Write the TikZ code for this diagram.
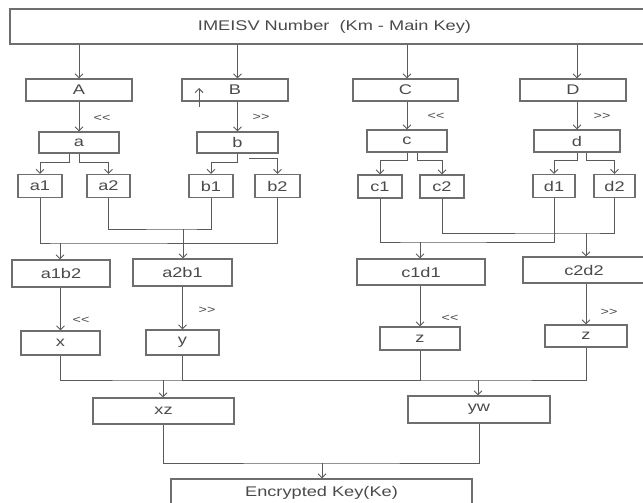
\documentclass[tikz,border=0pt]{standalone}
\usepackage{fontspec}
\setmainfont{Liberation Sans}
\usetikzlibrary{arrows.meta,calc}
\newcommand{\hs}[1]{\scalebox{1.3}[1]{#1}}
\definecolor{boxc}{HTML}{6E6E6E}
\definecolor{txtc}{HTML}{4A4A4A}
\definecolor{linec}{HTML}{5A5A5A}
\begin{document}
\begin{tikzpicture}[x=1pt,y=-1pt,
  box/.style={draw=boxc,line width=1.1pt,inner sep=0pt,text=txtc,font=\fontsize{14}{16}\selectfont},
  lab/.style={text=txtc,font=\fontsize{11}{12}\selectfont,inner sep=0pt},
  ln/.style={draw=linec,line width=0.9pt},
  arr/.style={ln,-{Straight Barb[length=4pt,width=8pt]}}]
\fill[white] (0,0) rectangle (643,503);
\clip (0,0) rectangle (643,503);
% top
\node[box,minimum width=649pt,minimum height=35pt] (top) at (334.5,26.5) {\hs{IMEISV Number\ \ (Km - Main Key)}};
% level 1
\node[box,minimum width=106pt,minimum height=22pt] (A) at (79,90) {\hs{A}};
\node[box,minimum width=106pt,minimum height=22pt] (B) at (235,90) {\hs{B}};
\node[box,minimum width=105pt,minimum height=22pt] (C) at (405.5,90) {\hs{C}};
\node[box,minimum width=106pt,minimum height=22pt] (D) at (573,90) {\hs{D}};
% level 2
\node[box,minimum width=80pt,minimum height=21pt] (a) at (79,142.5) {\hs{a}};
\node[box,minimum width=81pt,minimum height=21pt] (b) at (237.5,142.5) {\hs{b}};
\node[box,minimum width=80pt,minimum height=22pt] (c) at (407,141) {\hs{c}};
\node[box,minimum width=86pt,minimum height=22pt] (d) at (577,141) {\hs{d}};
% level 3
\node[box,minimum width=44pt,minimum height=23pt] (a1) at (40,186) {\hs{a1}};
\node[box,minimum width=43pt,minimum height=23pt] (a2) at (108.5,186) {\hs{a2}};
\node[box,minimum width=44pt,minimum height=23pt] (b1) at (211,186) {\hs{b1}};
\node[box,minimum width=45pt,minimum height=23pt] (b2) at (277.5,186) {\hs{b2}};
\node[box,minimum width=44pt,minimum height=23pt] (c1) at (380,186.5) {\hs{c1}};
\node[box,minimum width=44pt,minimum height=23pt] (c2) at (442,186.5) {\hs{c2}};
\node[box,minimum width=42pt,minimum height=23pt] (d1) at (554,186) {\hs{d1}};
\node[box,minimum width=41pt,minimum height=23pt] (d2) at (614.5,186) {\hs{d2}};
% level 4
\node[box,minimum width=98pt,minimum height=27pt] (a1b2) at (61,273.5) {\hs{a1b2}};
\node[box,minimum width=99pt,minimum height=27pt] (a2b1) at (182.5,272.5) {\hs{a2b1}};
\node[box,minimum width=128pt,minimum height=26pt] (c1d1) at (421,272) {\hs{c1d1}};
\node[box,minimum width=122pt,minimum height=26pt] (c2d2) at (584,270) {\hs{c2d2}};
% level 5
\node[box,minimum width=79pt,minimum height=24pt] (nx) at (60.5,343) {\hs{x}};
\node[box,minimum width=73pt,minimum height=25pt] (ny) at (182.5,342.5) {\hs{y}};
\node[box,minimum width=80pt,minimum height=23pt] (nz1) at (420,338.5) {\hs{z}};
\node[box,minimum width=82pt,minimum height=22pt] (nz2) at (586,336) {\hs{z}};
% level 6
\node[box,minimum width=141pt,minimum height=26pt] (xz) at (163.5,411) {\hs{xz}};
\node[box,minimum width=142pt,minimum height=27pt] (yw) at (479,409.5) {\hs{yw}};
% bottom
\node[box,minimum width=301pt,minimum height=28pt] (enc) at (321.5,493) {\hs{Encrypted Key(Ke)}};

% top arrows
\draw[arr] (top.south -| A) -- (A.north);
\draw[arr] (top.south -| b) -- (B.north -| b);
\draw[arr] (top.south -| c) -- (C.north -| c);
\draw[arr] (top.south -| d) -- (D.north -| d);
% level1 -> level2
\draw[arr] (A.south) -- (a.north);
\draw[arr] (B.south -| b) -- (b.north);
\draw[arr] (C.south -| c) -- (c.north);
\draw[arr] (D.south -| d) -- (d.north);
\node[lab] (l1) at (102,118) {\hs{\mbox{<}\mbox{<}}};
\node[lab] (l2) at (261,117) {\hs{\mbox{>}\mbox{>}}};
\node[lab] (l3) at (436,116) {\hs{\mbox{<}\mbox{<}}};
\node[lab] (l4) at (602,116) {\hs{\mbox{>}\mbox{>}}};
% small up arrow in B
\coordinate (u0) at (199,107);
\coordinate (u1) at (199,88);
\draw[arr] (u0) -- (u1);
% branches
\draw[arr] ([xshift=-10pt]a.south) -- ++(0,9) -| (a1.north);
\draw[arr] (a.south) -- ++(0,9) -| (a2.north);
\draw[arr] (b.south) -- ++(0,9) -| (b1.north);
\coordinate (bfree) at (249,158);
\draw[arr] (bfree) -| (b2.north);
\draw[arr] (c.south) -- ++(0,8) -| (c1.north);
\draw[arr] ([xshift=10pt]c.south) -- ++(0,8) -| (c2.north);
\draw[arr] (d.south) -- ++(0,8) -| (d1.north);
\draw[arr] ([xshift=9pt]d.south) -- ++(0,8) -| (d2.north);
% merges level3 -> level4
\coordinate (m1) at (60,243);
\draw[ln] (a1.south) |- (m1) -| (b2.south);
\draw[arr] (m1) -- (m1 |- a1b2.north);
\coordinate (m2) at (183,229);
\draw[ln] (a2.south) |- (m2) -| (b1.south);
\draw[arr] (m2) -- (m2 |- a2b1.north);
\coordinate (m3) at (420,242);
\draw[ln] (c1.south) |- (m3) -| (d1.south);
\draw[arr] (m3) -- (m3 |- c1d1.north);
\coordinate (m4) at (586,233);
\draw[ln] (c2.south) |- (m4) -| (d2.south);
\draw[arr] (m4) -- (m4 |- c2d2.north);
% level4 -> level5
\draw[arr] (a1b2.south -| nx) -- (nx.north);
\draw[arr] (a2b1.south -| ny) -- (ny.north);
\draw[arr] (c1d1.south -| nz1) -- (nz1.north);
\draw[arr] (c2d2.south -| nz2) -- (nz2.north);
\node[lab] (l5) at (81,320) {\hs{\mbox{<}\mbox{<}}};
\node[lab] (l6) at (207,310) {\hs{\mbox{>}\mbox{>}}};
\node[lab] (l7) at (450,318) {\hs{\mbox{<}\mbox{<}}};
\node[lab] (l8) at (609,312) {\hs{\mbox{>}\mbox{>}}};
% merges level5 -> level6
\coordinate (m5) at (163,380);
\draw[ln] (nx.south) |- (m5) -| (nz1.south);
\draw[arr] (m5) -- (m5 |- xz.north);
\coordinate (m6) at (478,380);
\draw[ln] (ny.south) |- (m6) -| (nz2.south);
\draw[arr] (m6) -- (m6 |- yw.north);
% final merge
\coordinate (m7) at (322,463);
\draw[ln] (xz.south) |- (m7) -| (yw.south);
\draw[arr] (m7) -- (m7 |- enc.north);
\end{tikzpicture}
\end{document}
